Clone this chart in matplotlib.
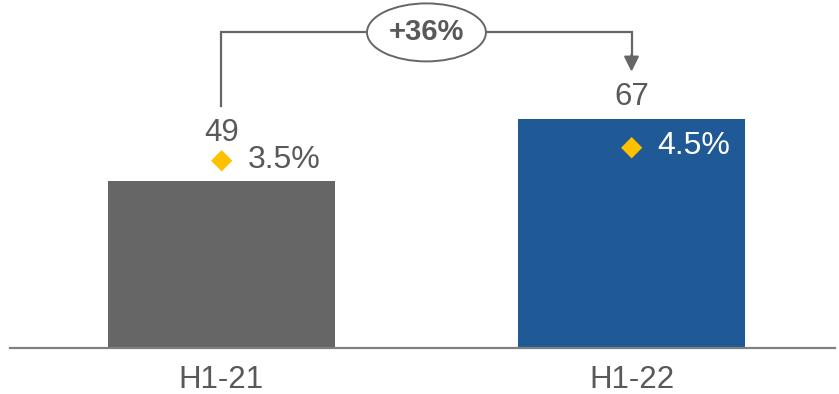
import matplotlib.pyplot as plt
from matplotlib.patches import Ellipse

categories = ["H1-21", "H1-22"]
values = [49, 67]
margins = ["3.5%", "4.5%"]
growth_label = "+36%"

plt.rcParams["font.family"] = ["Liberation Sans", "DejaVu Sans"]

gray_text = "#595959"
bar_colors = ["#666666", "#1F5A96"]

fig = plt.figure(figsize=(8.39, 3.94), dpi=100)
ax = fig.add_axes([0, 0, 1, 1])

x = list(range(len(categories)))
ax.bar(x, values, width=0.554, color=bar_colors)

ax.set_xlim(-0.540, 1.506)
ax.set_ylim(-13.5, 102)
ax.axis("off")

# baseline
ax.axhline(0, xmin=10 / 839, xmax=835 / 839, color="#808080", linewidth=1.6)

# category labels
for xi, cat in zip(x, categories):
    ax.annotate(cat, (xi, 0), xytext=(0, -32), textcoords="offset pixels",
                ha="center", va="center", fontsize=22.5, color=gray_text)

# value labels
ax.annotate(str(values[0]), (x[0], values[0]), xytext=(0, 48),
            textcoords="offset pixels", ha="center", va="center",
            fontsize=22.5, color=gray_text)
ax.annotate(str(values[1]), (x[1], values[1]), xytext=(0, 22),
            textcoords="offset pixels", ha="center", va="center",
            fontsize=22.5, color=gray_text)

# margin labels with diamonds
diamond_offsets = [21, -27]
text_colors = [gray_text, "white"]
for xi, v, m, dy, tc in zip(x, values, margins, diamond_offsets, text_colors):
    ax.annotate("\u25c6", (xi, v), xytext=(0, dy), textcoords="offset pixels",
                ha="center", va="center", fontsize=20, color="#FFC000",
                family="DejaVu Sans")
    ax.annotate(m, (xi, v), xytext=(26, dy), textcoords="offset pixels",
                ha="left", va="center", fontsize=23, color=tc)

# growth bracket
line_color = "#666666"
y_top = max(values) + 25.5
y_start = values[0] + 22
y_end = values[1] + 14
ax.plot([x[0], x[0], x[1], x[1]], [y_start, y_top, y_top, y_end + 4],
        color=line_color, linewidth=1.6, solid_joinstyle="miter")
ax.annotate("", xy=(x[1], y_end), xytext=(x[1], y_end + 5),
            arrowprops=dict(arrowstyle="-|>,head_length=0.9,head_width=0.45",
                            color=line_color, linewidth=1.6,
                            shrinkA=0, shrinkB=0))

mid = (x[0] + x[1]) / 2
ax.add_patch(Ellipse((mid, y_top), width=0.29, height=17,
                     facecolor="white", edgecolor=line_color, linewidth=1.4,
                     zorder=3))
ax.text(mid, y_top, growth_label, ha="center", va="center", fontsize=21,
        fontweight="bold", color=gray_text, zorder=4)

fig.savefig("out.png", dpi=100)
